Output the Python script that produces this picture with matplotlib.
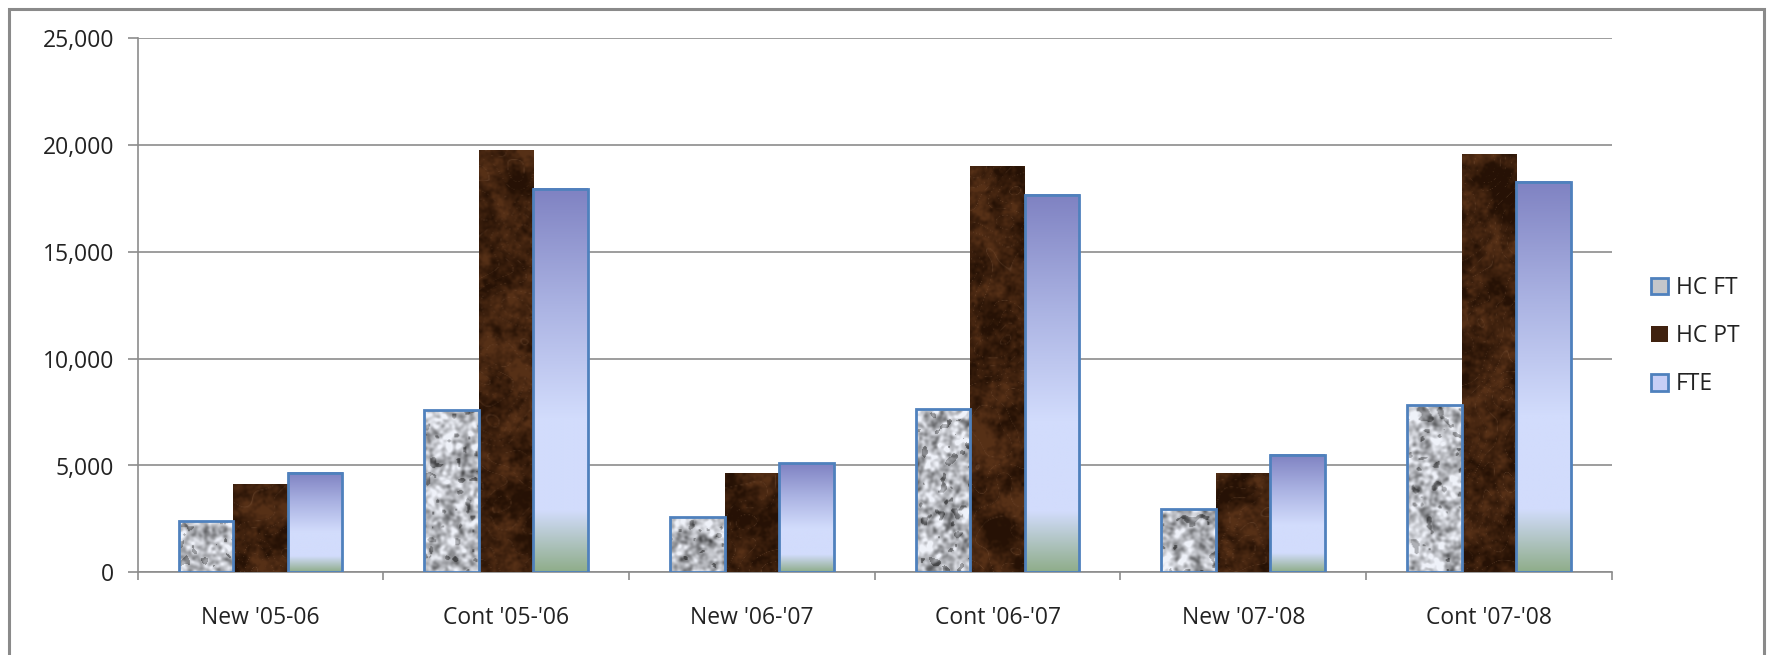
import numpy as np
import matplotlib

matplotlib.use("Agg")
import matplotlib.pyplot as plt
from matplotlib.colors import LinearSegmentedColormap
from matplotlib.patches import Patch, Rectangle
from matplotlib.ticker import StrMethodFormatter

CATEGORIES = ["New '05-06", "Cont '05-'06", "New '06-'07", "Cont '06-'07", "New '07-'08", "Cont '07-'08"]
HC_FT = [2420, 7580, 2600, 7650, 2970, 7840]
HC_PT = [4140, 19780, 4650, 19000, 4640, 19600]
FTE = [4660, 17940, 5100, 17650, 5510, 18260]
SERIES = ["HC FT", "HC PT", "FTE"]

W, H, DPI = 1773, 655, 100
GRID = "#8c8c8c"
EDGE = "#4f81bd"
FONT = "Open Sans"


def smooth_noise(rng, shape, sigma):
    # gaussian-blurred white noise via FFT, normalised to unit std
    n = rng.standard_normal(shape)
    fy = np.fft.fftfreq(shape[0])[:, None]
    fx = np.fft.fftfreq(shape[1])[None, :]
    k = np.exp(-2 * (np.pi * sigma) ** 2 * (fx ** 2 + fy ** 2))
    out = np.real(np.fft.ifft2(np.fft.fft2(n) * k))
    return (out - out.mean()) / out.std()


def granite(rng, shape):
    a = smooth_noise(rng, shape, 1.6)
    b = smooth_noise(rng, shape, 4.0)
    v = np.clip(0.76 + 0.10 * a + 0.08 * b, 0.3, 0.96)
    spots = smooth_noise(rng, shape, 2.2)
    v = np.where(spots < -1.35, v - 0.26, v)
    v = np.clip(v, 0.28, 0.96)
    rgb = np.stack([v * 0.98, v * 0.99, v * 1.02], axis=-1)
    return np.clip(rgb, 0, 1)


def marble(rng, shape):
    yy, xx = np.mgrid[0:shape[0], 0:shape[1]]
    base = smooth_noise(rng, shape, 9.0)
    mid_n = smooth_noise(rng, shape, 3.0)
    warp = smooth_noise(rng, shape, 12.0)
    fine = smooth_noise(rng, shape, 1.2)
    veins = np.abs(np.sin(0.12 * xx + 0.07 * yy + 4.0 * warp))
    veins = np.clip(1 - veins / 0.08, 0, 1)
    dark = np.array([0.15, 0.07, 0.02])
    mid = np.array([0.34, 0.19, 0.09])
    light = np.array([0.55, 0.40, 0.29])
    t = np.clip(0.45 + 0.22 * base + 0.14 * mid_n + 0.10 * fine, 0, 1)[..., None]
    rgb = dark + (mid - dark) * t
    rgb = rgb + (light - rgb) * (0.35 * veins[..., None])
    return np.clip(rgb, 0, 1)


fte_cmap = LinearSegmentedColormap.from_list(
    "fte",
    [(0.0, "#8fad8a"), (0.16, "#d2dcfc"), (0.40, "#d2dcfc"), (0.70, "#aab2e2"), (1.0, "#7f82c2")],
)

plt.rcParams["font.family"] = [FONT, "DejaVu Sans"]
fig = plt.figure(figsize=(W / DPI, H / DPI), dpi=DPI)
ax = fig.add_axes([137.7 / W, 1 - 572.3 / H, (1611.7 - 137.7) / W, (572.3 - 38.3) / H])

x = np.arange(len(CATEGORIES))
bw = 1 / 4.5
rng = np.random.default_rng(7)
tex_shape = (540, 1480)
tex_ft = granite(rng, tex_shape)
tex_pt = marble(rng, tex_shape)
full_extent = [-0.5, len(CATEGORIES) - 0.5, 0, 25000]

bars_ft = ax.bar(x - bw, HC_FT, bw, facecolor="none", edgecolor=EDGE, linewidth=2.0, zorder=4)
bars_pt = ax.bar(x, HC_PT, bw, facecolor="none", edgecolor="none", linewidth=0, zorder=4)
bars_fte = ax.bar(x + bw, FTE, bw, facecolor="none", edgecolor=EDGE, linewidth=2.0, zorder=4)

for bar in bars_ft:
    im = ax.imshow(tex_ft, extent=full_extent, aspect="auto", zorder=3, interpolation="bilinear")
    im.set_clip_path(bar)
for bar in bars_pt:
    im = ax.imshow(tex_pt, extent=full_extent, aspect="auto", zorder=3, interpolation="bilinear")
    im.set_clip_path(bar)
grad = np.linspace(1, 0, 256)[:, None]
for bar in bars_fte:
    x0, h = bar.get_x(), bar.get_height()
    ax.imshow(grad, cmap=fte_cmap, vmin=0, vmax=1, extent=[x0, x0 + bw, 0, h],
              aspect="auto", zorder=3, interpolation="bilinear")

ax.set_xlim(-0.5, len(CATEGORIES) - 0.5)
ax.set_ylim(0, 25000)
ax.set_yticks(np.arange(0, 25001, 5000))
ax.yaxis.set_major_formatter(StrMethodFormatter("{x:,.0f}"))
ax.set_xticks(x)
ax.set_xticklabels(CATEGORIES)
ax.set_xticks(np.arange(-0.5, len(CATEGORIES), 1.0), minor=True)
ax.tick_params(axis="x", which="major", length=0, pad=24, labelsize=16.5, colors="#222222")
ax.tick_params(axis="x", which="minor", length=6, width=1.2, color=GRID)
ax.tick_params(axis="y", length=7, width=1.2, color=GRID, pad=10, labelsize=16.5, labelcolor="#222222")
ax.yaxis.grid(True, color=GRID, linewidth=1.2)
ax.set_axisbelow(True)
for s in ("top", "right"):
    ax.spines[s].set_visible(False)
for s in ("left", "bottom"):
    ax.spines[s].set_color(GRID)
    ax.spines[s].set_linewidth(1.2)

handles = [
    Patch(facecolor="#c4c6ca", edgecolor=EDGE, linewidth=2.0),
    Patch(facecolor="#40220f", edgecolor="none"),
    Patch(facecolor="#c8cff6", edgecolor=EDGE, linewidth=2.0),
]
fig.legend(handles, SERIES, loc="upper left", bbox_to_anchor=(1651 / W, 1 - 276 / H),
           frameon=False, fontsize=16.5, handlelength=0.75, handleheight=0.75,
           handletextpad=0.35, labelspacing=1.05, borderpad=0, borderaxespad=0,
           labelcolor="#222222")

# outer chart frame (bottom edge falls outside the picture)
fig.patches.append(Rectangle((9 / W, -0.05), (1764 - 9) / W, 1.05 - 9 / H, transform=fig.transFigure,
                             fill=False, edgecolor="#8a8a8a", linewidth=2.2))

fig.savefig("out.png", dpi=DPI)
